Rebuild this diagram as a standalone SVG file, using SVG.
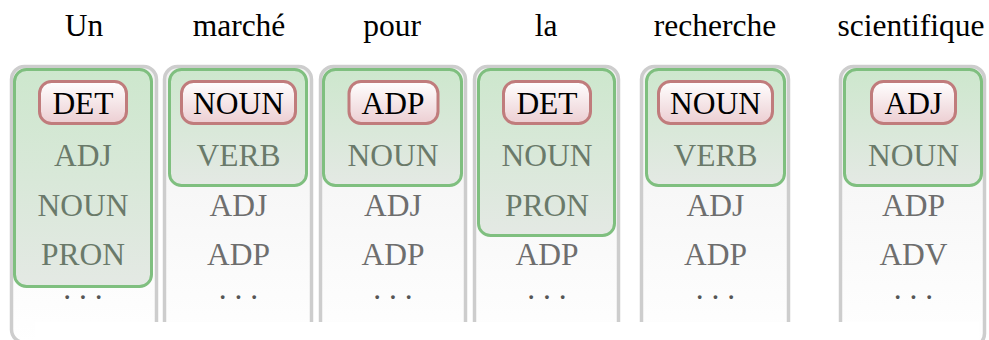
<svg xmlns="http://www.w3.org/2000/svg" width="989" height="340" viewBox="0 0 989 340" font-family="'Liberation Serif', 'Times New Roman', serif">
  <defs>
    <linearGradient id="colFill" x1="0" y1="0" x2="0" y2="1">
      <stop offset="0" stop-color="#f1f1f1"/>
      <stop offset="1" stop-color="#ffffff"/>
    </linearGradient>
    <linearGradient id="greenFill" x1="0" y1="0" x2="0" y2="1">
      <stop offset="0" stop-color="#cde7cd"/>
      <stop offset="1" stop-color="#e4e9e4"/>
    </linearGradient>
    <linearGradient id="redFill" x1="0" y1="0" x2="0" y2="1">
      <stop offset="0" stop-color="#ffffff"/>
      <stop offset="1" stop-color="#ecced2"/>
    </linearGradient>
  </defs>
  <style>
    text { font-size: 31.5px; text-anchor: middle; }
    .word { fill: #000000; }
    .col { fill: url(#colFill); stroke: #cdcdcd; stroke-width: 3.5; }
    .cand { fill: url(#greenFill); stroke: #7fbf7f; stroke-width: 3; }
    .best { fill: url(#redFill); stroke: #c07c7c; stroke-width: 3; }
    .top { fill: #000000; }
    .in { fill: #6a7a6a; }
    .out { fill: #6e6e6e; }
    .dots { fill: #555555; }
  </style>

  <!-- sentence tokens -->
  <g id="words">
    <text class="word" x="84" y="36">Un</text>
    <text class="word" x="239" y="36">marché</text>
    <text class="word" x="392" y="36">pour</text>
    <text class="word" x="546" y="36">la</text>
    <text class="word" x="715" y="36">recherche</text>
    <text class="word" x="911" y="36">scientifique</text>
  </g>

  <!-- tag columns -->
  <g id="col-un">
    <rect class="col" x="11.5" y="66.5" width="145" height="276" rx="13"/>
    <rect class="cand" x="14.5" y="69.5" width="137" height="217" rx="12"/>
    <rect class="best" x="39.5" y="81.5" width="87" height="42" rx="12"/>
    <text class="top" x="83" y="114">DET</text>
    <text class="in" x="83" y="165.5">ADJ</text>
    <text class="in" x="83" y="215.5">NOUN</text>
    <text class="in" x="83" y="265">PRON</text>
    <text class="dots" x="83" y="298.5">. . .</text>
  </g>

  <g id="col-marche">
    <rect class="col" x="164.5" y="66.5" width="147" height="290" rx="13"/>
    <rect class="cand" x="169.5" y="69.5" width="137" height="116" rx="12"/>
    <rect class="best" x="181.5" y="81.5" width="114" height="42" rx="12"/>
    <text class="top" x="238.5" y="114">NOUN</text>
    <text class="in" x="238.5" y="165.5">VERB</text>
    <text class="out" x="238.5" y="215.5">ADJ</text>
    <text class="out" x="238.5" y="265">ADP</text>
    <text class="dots" x="238.5" y="298.5">. . .</text>
  </g>

  <g id="col-pour">
    <rect class="col" x="320.5" y="66.5" width="145" height="290" rx="13"/>
    <rect class="cand" x="323.5" y="69.5" width="138" height="116" rx="12"/>
    <rect class="best" x="349" y="81.5" width="89" height="42" rx="12"/>
    <text class="top" x="393" y="114">ADP</text>
    <text class="in" x="393" y="165.5">NOUN</text>
    <text class="out" x="393" y="215.5">ADJ</text>
    <text class="out" x="393" y="265">ADP</text>
    <text class="dots" x="393" y="298.5">. . .</text>
  </g>

  <g id="col-la">
    <rect class="col" x="474.5" y="66.5" width="144" height="290" rx="13"/>
    <rect class="cand" x="478.5" y="69.5" width="136" height="166" rx="12"/>
    <rect class="best" x="503.5" y="81.5" width="87" height="42" rx="12"/>
    <text class="top" x="547" y="114">DET</text>
    <text class="in" x="547" y="165.5">NOUN</text>
    <text class="in" x="547" y="215.5">PRON</text>
    <text class="out" x="547" y="265">ADP</text>
    <text class="dots" x="547" y="298.5">. . .</text>
  </g>

  <g id="col-recherche">
    <rect class="col" x="641.5" y="66.5" width="147" height="290" rx="13"/>
    <rect class="cand" x="646.5" y="69.5" width="138" height="116" rx="12"/>
    <rect class="best" x="658.5" y="81.5" width="114" height="42" rx="12"/>
    <text class="top" x="715.5" y="114">NOUN</text>
    <text class="in" x="715.5" y="165.5">VERB</text>
    <text class="out" x="715.5" y="215.5">ADJ</text>
    <text class="out" x="715.5" y="265">ADP</text>
    <text class="dots" x="715.5" y="298.5">. . .</text>
  </g>

  <g id="col-scientifique">
    <rect class="col" x="840.5" y="66.5" width="144" height="280" rx="13"/>
    <rect class="cand" x="844.5" y="69.5" width="137" height="116" rx="12"/>
    <rect class="best" x="871.5" y="81.5" width="84" height="42" rx="12"/>
    <text class="top" x="913.5" y="114">ADJ</text>
    <text class="in" x="913.5" y="165.5">NOUN</text>
    <text class="out" x="913.5" y="215.5">ADP</text>
    <text class="out" x="913.5" y="265">ADV</text>
    <text class="dots" x="913.5" y="298.5">. . .</text>
  </g>

  <!-- lower cut of the columns -->
  <rect x="35" y="322" width="944" height="18" fill="#ffffff"/>

  <g id="connectors"/>
</svg>
